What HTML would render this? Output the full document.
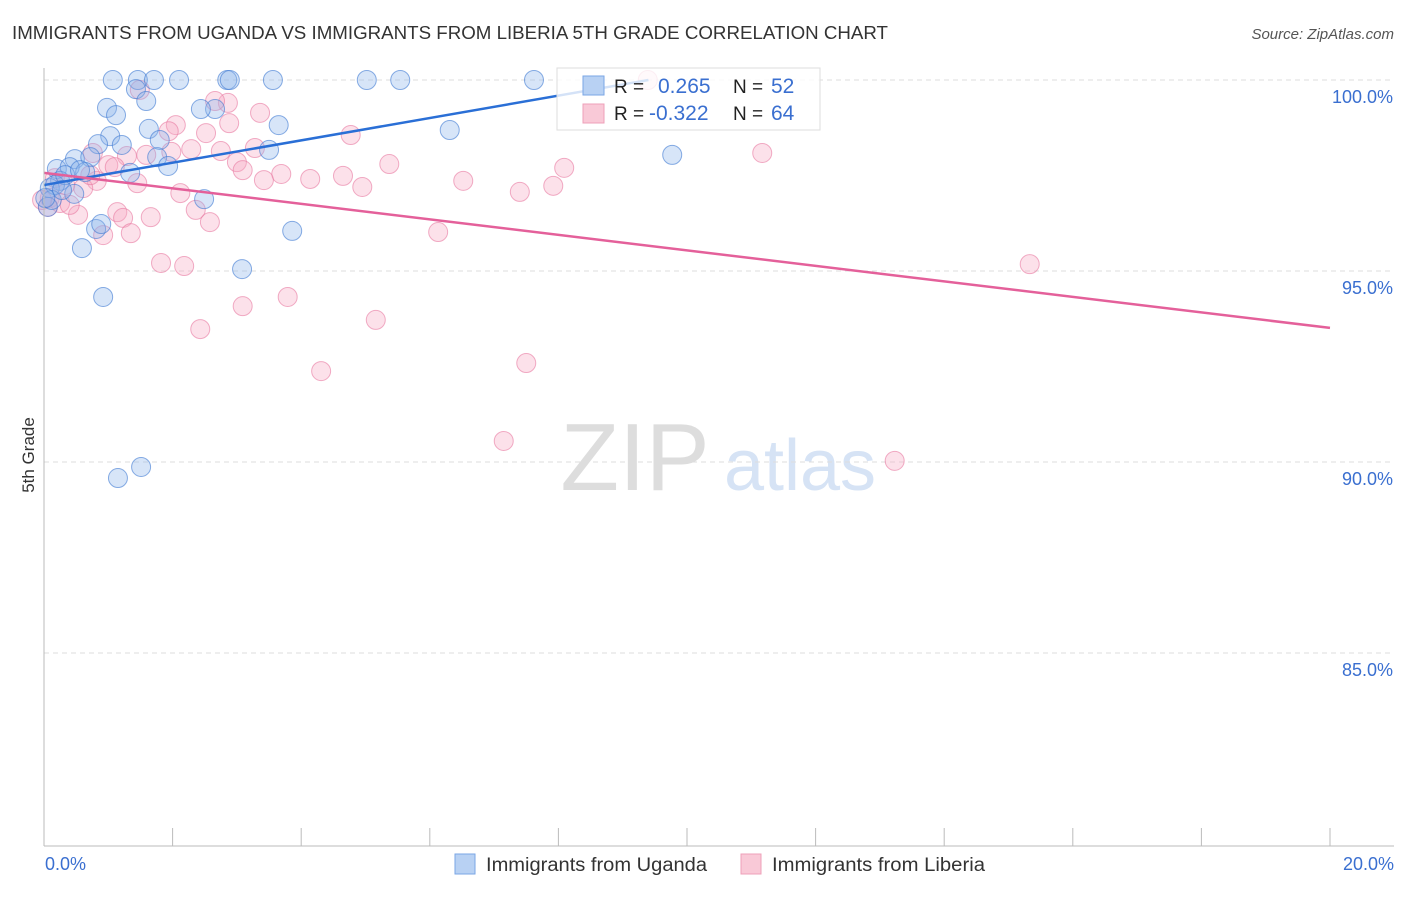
<!DOCTYPE html>
<html><head><meta charset="utf-8"><style>
body{margin:0;background:#fff;font-family:"Liberation Sans",sans-serif}
svg text{font-family:"Liberation Sans",sans-serif}
</style></head><body>
<svg id="c" width="1406" height="892">
<text x="12" y="39" font-size="18.5" fill="#333" textLength="876" lengthAdjust="spacingAndGlyphs">IMMIGRANTS FROM UGANDA VS IMMIGRANTS FROM LIBERIA 5TH GRADE CORRELATION CHART</text>
<text x="1394" y="39" font-size="15" fill="#555" text-anchor="end" font-style="italic">Source: ZipAtlas.com</text>
<text x="34" y="455" font-size="17" fill="#333" text-anchor="middle" transform="rotate(-90 34 455)">5th Grade</text>
<text x="635" y="490" font-size="96" fill="#ddd" text-anchor="middle" font-family="Liberation Serif">ZIP</text>
<text x="800" y="490" font-size="72" fill="#d6e3f5" text-anchor="middle">atlas</text>
<g id="grid"></g><g id="pts"></g><g id="lines"></g>
<line x1="44" y1="68" x2="44" y2="846" stroke="#bbb"/>
<line x1="44" y1="846" x2="1394" y2="846" stroke="#bbb"/>
<text x="45" y="870" font-size="18" fill="#3a6fd0">0.0%</text>
<text x="1394" y="870" font-size="18" fill="#3a6fd0" text-anchor="end">20.0%</text>
<g>
<rect x="557" y="68" width="263" height="62" fill="rgba(255,255,255,0.8)" stroke="#ddd"/>
<rect x="583" y="76" width="21" height="19" fill="#b8d1f3" stroke="#7aa6e6"/>
<rect x="583" y="104" width="21" height="19" fill="#f9c9d7" stroke="#eea0b8"/>
<text x="614" y="93" font-size="19" fill="#222">R = </text><text x="658" y="93" font-size="21" fill="#3a6fd0">0.265</text>
<text x="733" y="93" font-size="19" fill="#222">N = </text><text x="771" y="93" font-size="21" fill="#3a6fd0">52</text>
<text x="614" y="120" font-size="19" fill="#222">R = </text><text x="649" y="120" font-size="21" fill="#3a6fd0">-0.322</text>
<text x="733" y="120" font-size="19" fill="#222">N = </text><text x="771" y="120" font-size="21" fill="#3a6fd0">64</text>
</g>
<g><rect x="455" y="854" width="20" height="20" fill="#b8d1f3" stroke="#7aa6e6"/><text x="486" y="871" font-size="19" fill="#333" textLength="221" lengthAdjust="spacingAndGlyphs">Immigrants from Uganda</text></g>
<g><rect x="741" y="854" width="20" height="20" fill="#f9c9d7" stroke="#eea0b8"/><text x="772" y="871" font-size="19" fill="#333" textLength="213" lengthAdjust="spacingAndGlyphs">Immigrants from Liberia</text></g>
</svg>
<script>
const yTicks=[100,95,90,85];
const yTickLabels=["100.0%","95.0%","90.0%","85.0%"];
const xTicks=[0,2,4,6,8,10,12,14,16,18,20];
const ugX=[1.07,1.46,1.71,2.1,2.85,2.89,3.56,5.02,5.54,7.62,1.43,1.59,0.98,1.12,2.66,2.44,3.65,1.63,6.31,1.03,0.84,1.8,1.21,3.5,1.76,0.48,0.72,1.93,9.77,0.2,0.4,0.64,1.34,0.25,0.09,0.47,2.49,0.81,0.89,3.86,0.59,3.08,0.92,1.51,1.15,0.06,0.17,0.33,0.12,0.56,0.28,0.02];
const ugY=[100,100,100,100,100,100,100,100,100,100,99.76,99.45,99.27,99.08,99.24,99.24,98.82,98.72,98.69,98.53,98.32,98.43,98.3,98.17,97.98,97.93,97.98,97.75,98.04,97.67,97.72,97.59,97.57,97.36,97.17,97.02,96.88,96.1,96.23,96.05,95.6,95.05,94.32,89.87,89.58,96.68,97.25,97.51,96.86,97.64,97.12,96.91];
const lbX=[9.39,1.49,2.86,2.66,3.36,2.05,1.94,2.52,2.88,4.77,2.29,2.75,3.28,1.98,1.59,1.29,0.76,1.0,1.1,3.0,3.09,5.37,8.09,11.17,3.69,4.14,4.65,3.42,4.95,6.52,7.92,7.4,1.45,0.82,0.61,2.12,0.09,0.25,0.53,1.14,1.66,2.36,1.23,2.58,0.92,1.35,6.13,1.82,2.18,15.33,3.09,3.79,2.43,5.16,4.31,7.5,7.15,13.23,0.06,0.4,0.17,0.33,-0.03,0.72];
const lbY=[100,99.74,99.4,99.45,99.14,98.82,98.66,98.61,98.87,98.56,98.19,98.14,98.22,98.12,98.04,98.01,98.09,97.77,97.72,97.85,97.64,97.8,97.7,98.09,97.54,97.41,97.49,97.38,97.2,97.36,97.23,97.07,97.3,97.36,97.17,97.04,96.91,96.78,96.47,96.54,96.41,96.6,96.39,96.28,95.94,95.99,96.02,95.21,95.13,95.18,94.08,94.32,93.48,93.72,92.38,92.59,90.55,90.03,96.68,96.73,97.43,97.25,96.86,97.51];
const ugTrend=[[0,97.25],[9.4,100]];
const lbTrend=[[0,97.57],[20,93.51]];
const sx=v=>44+v*64.3, sy=v=>80+(100-v)*38.2;
const NS="http://www.w3.org/2000/svg";
function mk(t,a,p){const e=document.createElementNS(NS,t);for(const k in a)e.setAttribute(k,a[k]);p.appendChild(e);return e;}
const grid=document.getElementById('grid');
yTicks.forEach((v,i)=>{
 const l=mk('line',{x1:44,x2:1394,y1:sy(v),y2:sy(v),stroke:'#ddd','stroke-dasharray':'5,4'},grid);
 
 
 const t=mk('text',{x:1393,y:sy(v)+23,'font-size':18,fill:'#3a6fd0','text-anchor':'end'},grid);
 t.textContent=yTickLabels[i];
 
 
});
xTicks.forEach(v=>{
 const l=mk('line',{x1:sx(v),x2:sx(v),y1:828,y2:846,stroke:'#bbb'},grid);
 
 
});
const pts=document.getElementById('pts');
lbX.forEach((x,i)=>{
 const c=mk('circle',{cx:sx(x),cy:sy(lbY[i]),r:9.5,fill:'rgba(246,170,195,0.35)',stroke:'rgba(232,120,160,0.6)'},pts);
 
 
});
ugX.forEach((x,i)=>{
 const c=mk('circle',{cx:sx(x),cy:sy(ugY[i]),r:9.5,fill:'rgba(140,180,235,0.35)',stroke:'rgba(60,120,210,0.6)'},pts);
 
 
});
const lines=document.getElementById('lines');
const l1=mk('line',{x1:sx(ugTrend[0][0]),y1:sy(ugTrend[0][1]),x2:sx(ugTrend[1][0]),y2:sy(ugTrend[1][1]),stroke:'#2a6fd6','stroke-width':2.5},lines);


const l2=mk('line',{x1:sx(lbTrend[0][0]),y1:sy(lbTrend[0][1]),x2:sx(lbTrend[1][0]),y2:sy(lbTrend[1][1]),stroke:'#e4609a','stroke-width':2.5},lines);


</script>
</body></html>
